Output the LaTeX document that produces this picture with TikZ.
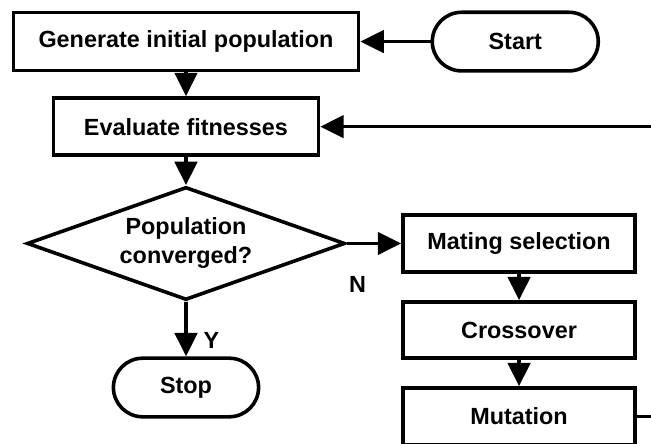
\documentclass[tikz,border=0pt]{standalone}
\usepackage{fontspec}
\setmainfont{Liberation Sans}
\usetikzlibrary{arrows.meta,positioning,shapes.geometric,shapes.misc}

\begin{document}
\begin{tikzpicture}[->, >={Triangle[length=6.2mm, width=5.9mm]}, line width=2.7pt,
  font=\fontsize{17.6}{21.8}\selectfont\bfseries,
  box/.style={draw, rectangle, minimum width=6.14cm, minimum height=1.51cm, inner sep=0pt},
  term/.style={draw, rounded rectangle, minimum height=1.55cm, inner sep=0pt},
  test/.style={draw, diamond, aspect=2.8, minimum width=8.41cm, minimum height=2.99cm, inner sep=0pt, align=center}]
\path[use as bounding box] (0,0) rectangle (17.22,-11.72);
\clip (0,0) rectangle (17.22,-11.72);
\node[box, minimum width=9.13cm, minimum height=1.54cm] (Gen) at (4.92,-1.1) {Generate initial population};
\node[term, minimum width=4.39cm] (Start) at (13.63,-1.1) {Start};
\node[box, minimum width=7.01cm] (Eval) at (4.92,-3.35) {Evaluate fitnesses};
\node[test] (Test) at (4.92,-6.44) {Population\\converged?};
\node[box] (Mate) at (13.73,-6.44) {Mating selection};
\node[box, minimum height=1.48cm] (Cross) at (13.73,-8.73) {Crossover};
\node[box] (Mut) at (13.73,-11.02) {Mutation};
\node[term, minimum width=3.84cm] (Stop) at (4.92,-10.25) {Stop};
\path (Start) edge (Gen);
\path (Gen) edge (Eval);
\path (Eval) edge (Test);
\path (Test) edge node[pos=0.2, below=7mm] {N} (Mate);
\path (Test) edge node[pos=0.7, right=3mm] {Y} (Stop);
\path (Mate) edge (Cross);
\path (Cross) edge (Mut);
% loop back, runs off the right edge
\draw (Mut.east) -- ++(1cm,0) |- (Eval.east);
\end{tikzpicture}
\end{document}
